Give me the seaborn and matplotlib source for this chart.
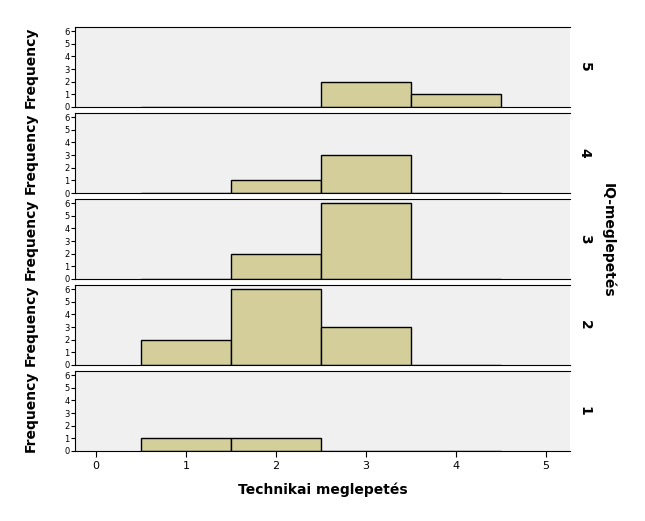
import numpy as np
import pandas as pd
import matplotlib
matplotlib.use("Agg")
import matplotlib.pyplot as plt
import seaborn as sns

# histogram bins (centres) and counts per IQ-meglepetés level
bin_centers = [1, 2, 3, 4]
levels = ["5", "4", "3", "2", "1"]
counts = {
    "5": [0, 0, 2, 1],
    "4": [0, 1, 3, 0],
    "3": [0, 2, 6, 0],
    "2": [2, 6, 3, 0],
    "1": [1, 1, 0, 0],
}
x_ticks = [0, 1, 2, 3, 4, 5]
y_ticks = [0, 1, 2, 3, 4, 5, 6]

W, H = 645, 521
fig = plt.figure(figsize=(W / 100, H / 100), dpi=100)
fig.patch.set_facecolor("white")

left, right = 75, 570
tops = [27, 113, 199, 285, 371]
ph = 80
bins = [0.5, 1.5, 2.5, 3.5, 4.5]

for i, lev in enumerate(levels):
    ax = fig.add_axes([left / W, 1 - (tops[i] + ph) / H, (right - left) / W, ph / H])
    ax.set_facecolor("#f0f0f0")
    df = pd.DataFrame({"x": bin_centers, "w": counts[lev]})
    sns.histplot(data=df, x="x", weights="w", bins=bins, ax=ax,
                 color="#d3ce9a", alpha=1, edgecolor="black", linewidth=1)
    ax.set_xlim(-0.233, 5.267)
    ax.set_ylim(0, 6.32)
    ax.set_yticks(y_ticks)
    ax.tick_params(axis="y", labelsize=6, length=3, pad=1)
    ax.set_ylabel("Frequency", fontsize=10, fontweight="bold")
    ax.yaxis.set_label_coords(-0.075, 0.5)
    for s in ["top", "right"]:
        ax.spines[s].set_visible(False)
    ax.spines["top"].set_visible(True)
    if i < 4:
        ax.set_xticks([])
        ax.set_xlabel("")
    else:
        ax.set_xticks(x_ticks)
        ax.tick_params(axis="x", labelsize=8, length=4)
        ax.set_xlabel("Technikai meglepetés", fontsize=10, fontweight="bold", labelpad=8)
    ax.text(1.03, 0.5, lev, transform=ax.transAxes, rotation=-90,
            fontsize=10, fontweight="bold", va="center", ha="center")

fig.text(608 / W, 1 - 240 / H, "IQ-meglepetés", rotation=-90, fontsize=10,
         fontweight="bold", va="center", ha="center")

fig.savefig("out.png", dpi=100)
